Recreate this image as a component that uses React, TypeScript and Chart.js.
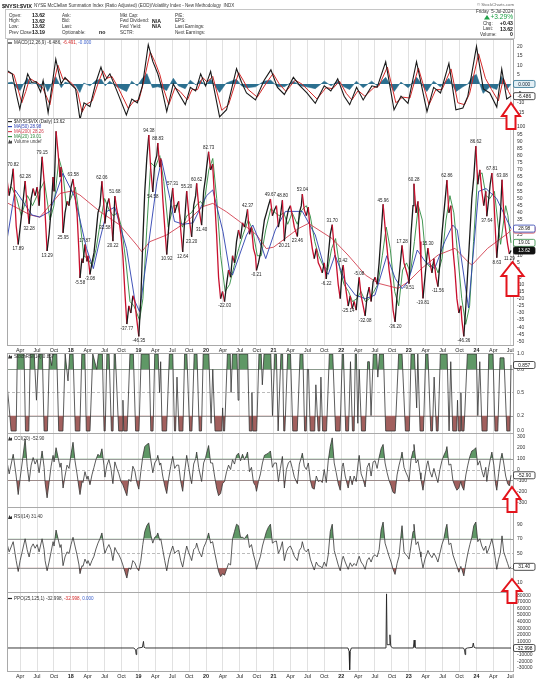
import React, { useEffect, useRef } from "react";
import { Chart, registerables } from "chart.js";

Chart.register(...registerables);

type P = [number, number];
const FONT = "'Liberation Sans', Arial, Helvetica, sans-serif";

// ---------- time axis: months since 1 Jan 2017 ----------
const X_MIN = 0.67;
const X_MAX = 90.5;
const quarterMonths = [3, 6, 9, 12, 15, 18, 21, 24, 27, 30, 33, 36, 39, 42, 45, 48, 51, 54, 57, 60, 63, 66, 69, 72, 75, 78, 81, 84, 87, 90];
const monthAbbr: Record<number, string> = { 3: "Apr", 6: "Jul", 9: "Oct" };

// ---------- tick labels ----------
const macdTicks = [20, 15, 10, 5, 0, -5, -10, -15];
const mainTicks = [100, 95, 90, 85, 80, 75, 70, 65, 60, 55, 50, 45, 40, 35, 30, 25, 20, 15, 10, 5, 0, -5, -10, -15, -20, -25, -30, -35, -40, -45, -50];
const stochTicks = [1, 0.8, 0.5, 0.2, 0];
const cciTicks = [300, 200, 100, 0, -100, -200, -300];
const rsiTicks = [90, 70, 50, 30, 10];
const ppoTicks = [80000, 70000, 60000, 50000, 40000, 30000, 20000, 10000, 0, -10000, -20000, -30000];

// ---------- $NYSI:$VIX price [month, value] ----------
const price: P[] = [
  [0.71, 62], [1.06, 52], [1.42, 60], [1.77, 70.82], [2.12, 45], [2.3, 31], [2.66, 17.89], [3.01, 30], [3.36, 42], [3.89, 62.28],
  [4.25, 45], [4.6, 32.28], [4.96, 50], [5.31, 57], [5.66, 52], [6.02, 58], [6.37, 45], [6.9, 79.15], [7.26, 62], [7.43, 40],
  [7.79, 13.29], [8.14, 25], [8.5, 42], [8.85, 65], [9.03, 55], [9.38, 97], [9.74, 82], [10.09, 65], [10.27, 72], [10.62, 25.95],
  [10.97, 40], [11.33, 48], [11.68, 45], [12.04, 58], [12.39, 63.58], [12.74, 52], [13.1, 40], [13.45, 12], [13.63, -5.58], [13.98, 8],
  [14.16, 5], [14.51, 17.87], [14.87, 6], [15.05, 10], [15.4, -3.08], [15.75, 5], [16.11, 12], [16.46, 25], [16.82, 40], [17.17, 45],
  [17.52, 62.06], [17.88, 45], [18.05, 32.58], [18.41, 45], [18.76, 50], [19.12, 40], [19.47, 20.22], [19.82, 51.68], [20.18, 42], [20.53, 35],
  [20.89, 25], [21.24, 10], [21.59, -15], [21.95, -37.77], [22.3, -25], [22.66, -30], [23.01, -18], [23.36, -22], [23.72, -35], [24.07, -46.35],
  [24.43, -20], [24.78, 20], [25.13, 55], [25.49, 78], [25.84, 94.38], [26.2, 70], [26.55, 54.58], [26.9, 75], [27.26, 80], [27.44, 88.83],
  [27.79, 72], [27.97, 78], [28.32, 50], [28.67, 30], [29.03, 10.92], [29.38, 30], [29.74, 45], [30.09, 57.31], [30.44, 40], [30.8, 45],
  [31.15, 48], [31.51, 28], [31.86, 12.64], [32.21, 35], [32.57, 55.2], [32.92, 40], [33.28, 28], [33.45, 23.2], [33.81, 45], [34.16, 52],
  [34.34, 60.62], [34.69, 45], [35.05, 35], [35.22, 31.4], [35.58, 55], [35.93, 65], [36.11, 72], [36.46, 82.73], [36.82, 70], [37.17, 74],
  [37.52, 50], [37.88, 25], [38.23, -5], [38.59, -20], [38.94, -15], [39.29, -22.03], [39.65, -10], [40.0, 0], [40.36, -5], [40.71, 10],
  [41.06, 5], [41.42, 20], [41.77, 28], [42.13, 22], [42.48, 33], [42.83, 30], [43.19, 38], [43.37, 42.37], [43.72, 25], [44.07, 30],
  [44.43, 15], [44.78, 10], [44.96, -0.21], [45.31, 5], [45.67, 12], [46.02, 25], [46.37, 35], [46.73, 40], [47.08, 45], [47.44, 49.67],
  [47.79, 38], [48.14, 42], [48.5, 45], [48.85, 30], [49.21, 38], [49.56, 48.8], [49.91, 20.21], [50.27, 35], [50.62, 42], [50.98, 45],
  [51.33, 38], [51.68, 30], [52.22, 23.46], [52.57, 40], [52.92, 45], [53.1, 53.04], [53.45, 42], [53.81, 38], [54.16, 44], [54.52, 25],
  [54.87, 15], [55.22, 8], [55.58, 15], [55.93, 5], [56.29, 2], [56.64, -2], [56.99, 5], [57.35, -6.22], [57.7, 10], [58.06, 25],
  [58.41, 31.7], [58.76, 15], [59.12, 5], [59.47, -10], [59.83, -20], [60.18, 0], [60.36, 3.42], [60.71, -10], [61.24, -25.14], [61.6, -18],
  [61.95, -27], [62.3, -22], [62.66, -28], [63.01, -12], [63.19, -5.08], [63.54, -18], [63.9, -25], [64.25, -32.08], [64.61, -18], [64.96, -12],
  [65.31, -22], [65.67, -8], [66.02, -5], [66.38, -10], [66.73, 5], [67.08, 25], [67.44, 45.96], [67.79, 30], [68.15, 15], [68.5, 0],
  [68.85, -10], [69.21, -28], [69.56, -36.2], [69.92, -18], [70.27, -5], [70.62, 10], [70.8, 17.28], [71.15, 5], [71.51, 0], [71.86, -5],
  [72.04, -9.51], [72.39, 25], [72.75, 45], [72.92, 60.28], [73.28, 40], [73.63, 48], [73.99, 20], [74.16, 5], [74.52, -19.81], [74.87, -5],
  [75.23, 10], [75.4, 15.3], [75.76, 5], [76.11, -2], [76.46, 8], [76.82, -5], [77.17, -11.56], [77.53, 5], [77.88, 25], [78.23, 40],
  [78.59, 55], [78.77, 62.86], [79.12, 40], [79.47, 45], [79.83, 15], [80.18, 0], [80.54, -20], [80.89, -30], [81.24, -25], [81.42, -35],
  [81.77, -46.36], [82.13, -25], [82.48, 0], [82.84, 25], [83.19, 50], [83.54, 65], [83.9, 86.62], [84.25, 60], [84.61, 70], [84.96, 55],
  [85.31, 45], [85.67, 55], [85.85, 37.64], [86.2, 50], [86.45, 60], [86.75, 67.81], [87.1, 50], [87.4, 25], [87.62, 8.63], [87.95, 25],
  [88.25, 38], [88.55, 63.08], [88.85, 40], [89.2, 28], [89.55, 18], [89.85, 11.29], [90.15, 13.62],
];

// labelled highs (1) and lows (-1) on the price line: [month, direction]
const priceLabels: P[] = [
  [1.77, 1], [3.89, 1], [6.9, 1], [12.39, 1], [14.51, 1], [17.52, 1], [19.82, 1], [25.84, 1], [27.44, 1], [30.09, 1],
  [32.57, 1], [34.34, 1], [36.46, 1], [43.37, 1], [47.44, 1], [49.56, 1], [53.1, 1], [58.41, 1], [60.36, 1], [63.19, 1],
  [67.44, 1], [70.8, 1], [72.92, 1], [75.4, 1], [78.77, 1], [83.9, 1], [86.75, 1], [88.55, 1],
  [2.66, -1], [4.6, -1], [7.79, -1], [10.62, -1], [13.63, -1], [15.4, -1], [18.05, -1], [19.47, -1], [21.95, -1], [24.07, -1],
  [26.55, -1], [29.03, -1], [31.86, -1], [33.45, -1], [35.22, -1], [39.29, -1], [44.96, -1], [49.91, -1], [52.22, -1], [57.35, -1],
  [61.24, -1], [64.25, -1], [69.56, -1], [72.04, -1], [74.52, -1], [77.17, -1], [81.77, -1], [85.85, -1], [87.62, -1], [89.85, -1],
];

const ma20: P[] = [
  [0.71, 55], [1.5, 58], [2.4, 50], [3.2, 38], [4.3, 52], [5.2, 45], [6.0, 52], [7.3, 62], [8.3, 35], [9.0, 45], [9.9, 78], [10.6, 68],
  [11.2, 45], [12.0, 50], [12.8, 58], [13.6, 35], [14.3, 10], [15.0, 8], [15.8, 3], [16.5, 15], [17.3, 35], [18.0, 50], [18.8, 42],
  [19.5, 38], [20.3, 40], [21.0, 30], [21.8, 5], [22.5, -22], [23.2, -25], [24.2, -35], [24.8, -20], [25.5, 30], [26.2, 75], [27.0, 72],
  [27.8, 80], [28.5, 62], [29.3, 30], [30.2, 45], [31.0, 45], [31.8, 30], [32.6, 38], [33.4, 40], [34.2, 45], [35.0, 48], [35.6, 45],
  [36.5, 70], [37.2, 78], [37.9, 50], [38.6, 10], [39.4, -15], [40.2, -10], [41.0, 3], [41.8, 15], [42.6, 25], [43.5, 35], [44.3, 28],
  [45.1, 10], [45.8, 10], [46.6, 28], [47.5, 43], [48.3, 40], [49.0, 38], [49.8, 40], [50.5, 32], [51.3, 40], [52.2, 32], [53.0, 42],
  [53.8, 45], [54.5, 38], [55.3, 20], [56.0, 10], [56.8, 3], [57.6, 0], [58.3, 15], [59.0, 22], [59.8, 0], [60.5, -10], [61.3, -15],
  [62.0, -22], [62.8, -20], [63.5, -15], [64.3, -22], [65.0, -20], [65.8, -15], [66.5, -10], [67.3, 10], [68.0, 30], [68.7, 15],
  [69.5, -15], [70.2, -25], [70.9, 0], [71.6, 5], [72.3, -2], [73.0, 20], [73.7, 45], [74.4, 35], [75.1, 5], [75.8, 2], [76.5, 5],
  [77.2, -2], [77.9, 8], [78.6, 35], [79.3, 52], [80.0, 40], [80.7, 10], [81.4, -20], [82.1, -38], [82.8, -25], [83.5, 20], [84.2, 65],
  [85.0, 68], [85.7, 52], [86.4, 50], [87.2, 55], [87.9, 30], [88.3, 18], [89.2, 45], [89.6, 38], [90.15, 19.01],
];

const ma50: P[] = [
  [0.71, 22], [2.1, 56], [3.5, 48], [5.1, 38.5], [6.5, 37], [8.3, 41], [10.6, 67.6], [12.7, 51], [14.8, 15], [16.0, 1], [17.2, 22],
  [18.4, 41], [19.8, 44], [21.9, 15], [23.4, -22], [24.2, -29], [25.7, 15], [27.3, 62], [28.1, 77], [29.6, 50], [30.4, 34], [32.0, 32],
  [33.7, 33], [36.1, 52], [37.2, 56], [39.0, 27], [40.2, -1], [40.7, -3.5], [43.2, 24.5], [44.3, 31.5], [46.0, 15], [46.6, 8], [48.3, 28],
  [50.1, 41], [53.1, 41], [55.4, 24.5], [57.2, -1], [57.7, -3], [58.9, 10.5], [60.7, -8], [62.5, -17.5], [64.3, -20], [66.0, -17.5],
  [68.1, 10], [69.6, -6], [70.8, -13], [71.9, -8], [73.5, 14], [74.9, 6], [76.6, 1], [78.4, 20], [79.8, 31.5], [80.6, 28], [82.6, -26.5],
  [84.4, 55], [85.7, 57], [87.6, 50], [90.15, 28.98],
];

const ma200: P[] = [
  [0.71, 47], [4.8, 38.5], [6.5, 37], [10.1, 53.6], [12.2, 55.3], [13.6, 52.5], [17.2, 40.8], [20.7, 31.5], [23.7, 17.5], [24.6, 12.8],
  [26.0, 19.8], [29.0, 24.5], [32.6, 33.8], [35.4, 44.3], [37.2, 46.6], [39.6, 40.8], [42.0, 33.8], [45.0, 24.5], [46.7, 15], [48.0, 16],
  [52.4, 29], [54.2, 32.6], [58.4, 22], [61.2, 10.5], [64.3, -3.5], [66.6, -9.3], [70.1, -12.8], [71.9, -8.2], [74.3, 1.2], [77.2, 10.5],
  [80.2, 15.2], [82.5, 5.8], [83.2, 3.5], [86.0, 15.2], [89.6, 25.7], [90.15, 28.26],
];

// ---------- MACD(12,26,9) ----------
const macdLine: P[] = [
  [0.67, 7.2], [0.81, 6.9], [1.59, 5.4], [2.48, -7.4], [2.94, -13.4], [3.61, -3.7], [4.34, 5.4], [5.06, 0.8], [5.84, 1.2], [6.64, -4.3],
  [7.08, 1.8], [7.97, -15.3], [8.58, -2.6], [9.33, 13.2], [10.27, 0], [10.97, 3.5], [11.93, 0], [12.85, -2.6], [13.63, -19], [14.34, -10],
  [15.4, -12], [16.46, 0.9], [17.35, 9], [18.05, 1.8], [18.94, 5.4], [20.18, -3.7], [21.86, -16.5], [22.83, -8], [23.81, -10], [24.71, -1],
  [25.75, 20.9], [26.55, 12], [27.44, 5.4], [28.05, -1], [29.03, -14.7], [30.18, 0], [31.1, -4.8], [32.32, -11], [33.22, -1.8], [34.16, -3.7],
  [35.05, 5.4], [35.93, -1], [36.82, 6.7], [38.41, -17.5], [39.65, -13.7], [41.42, 8.1], [42.3, 0.9], [43.19, -4.8], [44.78, -8.5], [46.3, 1.8],
  [47.52, 7.5], [48.68, -1.8], [49.91, -5.6], [51.51, 3.5], [52.69, -1], [53.91, -4.8], [55.4, -10.3], [56.99, -1], [58.16, -3.7], [59.38, 2.7],
  [60.53, -6.5], [61.51, -11], [62.73, -1.8], [63.9, -8.5], [65.45, -1], [66.38, -1.8], [67.9, 11.8], [69.38, -13.7], [70.62, -6.5], [71.86, -10.3],
  [73.37, 11.8], [75.23, -14.7], [76.41, -1.8], [77.63, -4.8], [79.12, 10.9], [80.36, -13.7], [81.6, -12.8], [82.48, -6.5], [84.02, 20], [85.23, -2.6],
  [86.38, -4.8], [87.62, -12.3], [88.5, 8], [89.39, -8], [90.15, -6.486],
];
const macdSignal: P[] = [
  [0.67, 6.5], [1.9, 5], [3.3, -10], [4.0, -4], [4.7, 3], [5.5, 1.5], [6.2, 0.5], [7.0, -2], [8.3, -11], [9.0, 1], [9.7, 10], [10.6, 2.5],
  [11.3, 2.5], [12.3, 0], [13.2, -4], [14.0, -15], [14.7, -11], [15.8, -9], [16.8, 0], [17.7, 7], [18.4, 3], [19.3, 4], [20.5, -2.5],
  [22.2, -13], [23.1, -9.5], [24.1, -8.5], [25.0, 2], [26.1, 17], [26.9, 12], [27.8, 5], [28.4, -2], [29.4, -11], [30.5, -2], [31.4, -4],
  [32.7, -8.5], [33.5, -3], [34.5, -3], [35.4, 3.5], [36.2, 1], [37.2, 4], [38.8, -14], [40.0, -11], [41.8, 6], [42.6, 2], [43.5, -3],
  [45.1, -7], [46.6, 0], [47.9, 5.5], [49.0, 0], [50.2, -4], [51.8, 2], [53.0, 0], [54.2, -3.5], [55.7, -8], [57.3, -2], [58.5, -2.5],
  [59.7, 1.5], [60.9, -5], [61.9, -8.5], [63.0, -3.5], [64.2, -6.5], [65.8, -2], [66.7, -1], [68.2, 9], [69.7, -10], [70.9, -7], [72.2, -7.5],
  [73.7, 8.5], [75.6, -11], [76.8, -3], [77.9, -3], [79.5, 8], [80.7, -10], [81.9, -11], [82.8, -5], [84.4, 16], [85.6, 3], [86.7, -3],
  [87.9, -9], [88.8, 3], [89.7, -4], [90.15, -6.491],
];
const macdHist: P[] = [
  [0.67, 0.5], [1.6, 1], [2.5, -2.5], [3.0, -3.5], [3.6, 0], [4.3, 3], [5.0, 0], [5.8, 0.5], [6.6, -2], [7.1, 1.5], [7.9, -4], [8.6, 0],
  [9.3, 4], [10.3, -2], [11.0, 1], [11.9, 0], [12.9, -1], [13.6, -4.5], [14.3, 0.5], [15.4, -1], [16.5, 2], [17.4, 2.5], [18.1, -1],
  [18.9, 1.5], [20.2, -1.5], [21.9, -4], [22.8, 1.5], [23.8, -1], [24.7, 3], [25.5, 5.5], [26.5, -2], [27.4, -1.5], [28.1, -2], [29.0, -3.5],
  [30.2, 3], [31.1, -1], [32.3, -2.5], [33.2, 2], [34.2, -0.5], [35.0, 2], [35.9, -1], [36.8, 2.5], [38.4, -4.5], [39.6, 0.5], [41.4, 2.5],
  [42.3, -1], [43.2, -2], [44.8, -1.5], [46.3, 1.5], [47.5, 2], [48.7, -1.5], [49.9, -1.5], [51.5, 1.5], [52.7, -1], [53.9, -1.5],
  [55.4, -2.5], [57.0, 1.5], [58.2, -1], [59.4, 1.5], [60.5, -1.5], [61.5, -3], [62.7, 1.5], [63.9, -2], [65.4, 1.5], [66.4, -1],
  [67.9, 3.5], [69.4, -4], [70.6, 1], [71.9, -2], [73.4, 3.5], [75.2, -4], [76.4, 1.5], [77.6, -1.5], [79.1, 3], [80.4, -4], [81.6, -1.5],
  [82.5, 0], [83.3, 4], [84.0, 5], [85.2, -5], [86.4, -1.5], [87.6, -3], [88.5, 4], [89.4, -3], [90.15, 0],
];

// ---------- StochRSI(14) ----------
const stochRsi: P[] = [
  [0.67, 0.6], [1.0, 0.35], [1.4, 0], [2.3, 0], [2.5, 1], [3.7, 1], [3.95, 0], [4.55, 0], [4.8, 1], [5.5, 1], [5.9, 0.4], [6.3, 1],
  [6.95, 1], [7.25, 0], [7.85, 0], [8.2, 1], [8.6, 0.85], [8.8, 1], [9.5, 1], [9.85, 0], [10.6, 0], [11.0, 1], [11.5, 0.65], [11.8, 1],
  [12.4, 1], [12.8, 0], [13.6, 0], [13.95, 1], [14.5, 1], [14.75, 0], [15.4, 0], [15.9, 1], [16.6, 0.8], [16.9, 1], [17.6, 1], [17.9, 0],
  [18.1, 0], [18.4, 1], [18.8, 1], [19.2, 0], [19.5, 0], [19.7, 1], [19.9, 1], [20.5, 0], [21.1, 0], [21.25, 0.4], [21.4, 0], [22.0, 0],
  [22.5, 1], [23.1, 1], [23.5, 0], [24.1, 0], [24.5, 1], [25.9, 1], [26.2, 0], [26.6, 0], [26.9, 1], [27.5, 1], [27.75, 0.5], [27.95, 0.9],
  [28.2, 0], [29.0, 0], [29.5, 1], [30.1, 1], [30.4, 0], [30.6, 0], [30.85, 0.7], [31.2, 0], [31.9, 0], [32.2, 1], [32.6, 1], [33.1, 0],
  [33.5, 0], [33.9, 1], [34.4, 1], [34.8, 0], [35.2, 0], [35.5, 1], [36.5, 1], [36.9, 0.1], [37.2, 0.8], [37.6, 0], [38.8, 0], [38.95, 0.3],
  [39.1, 0], [39.3, 0], [39.8, 1], [40.3, 1], [40.45, 0.5], [40.7, 1], [41.5, 1], [41.7, 0.4], [41.85, 1], [43.4, 1], [43.7, 0], [44.0, 0],
  [44.15, 0.5], [44.3, 0], [45.0, 0], [45.4, 1], [45.8, 1], [46.0, 0.6], [46.3, 1], [47.5, 1], [47.8, 0.2], [48.2, 1], [48.5, 1], [48.8, 0],
  [48.9, 0], [49.3, 1], [49.6, 1], [49.8, 0], [50.0, 0], [50.5, 1], [51.0, 1], [51.4, 0], [52.2, 0], [52.7, 1], [53.2, 1], [53.5, 0],
  [53.8, 0], [54.0, 0.8], [54.2, 0.8], [54.5, 0], [55.3, 0], [55.5, 0.6], [55.9, 0], [56.2, 0], [56.4, 0.7], [56.7, 0], [57.4, 0], [57.9, 1],
  [58.5, 1], [59.0, 0], [59.8, 0], [60.2, 1], [60.4, 1], [60.8, 0], [61.3, 0], [61.65, 0.9], [62.0, 0], [62.3, 0], [62.5, 1], [62.7, 1],
  [62.95, 0.1], [63.2, 0.8], [63.6, 0], [64.3, 0], [64.7, 0.9], [65.0, 0.9], [65.3, 0.2], [65.7, 1], [66.3, 1], [66.5, 0.7], [66.8, 1],
  [67.5, 1], [67.9, 0], [69.6, 0], [70.2, 1], [70.8, 1], [71.4, 0], [72.1, 0], [72.4, 1], [73.0, 1], [73.4, 0.3], [73.6, 1], [74.0, 0],
  [74.6, 0], [75.0, 1], [75.4, 1], [75.9, 0], [76.2, 0], [76.5, 0.7], [76.9, 0], [77.2, 0], [77.6, 1], [78.8, 1], [79.15, 0], [79.45, 0.9],
  [79.8, 0], [80.5, 0], [80.65, 0.4], [80.8, 0], [81.1, 0], [81.25, 0.5], [81.4, 0], [81.8, 0], [82.4, 1], [84.0, 1], [84.25, 0.2],
  [84.6, 0.9], [85.0, 0], [85.9, 0], [86.2, 1], [86.95, 1], [87.3, 0], [87.8, 0], [88.2, 0.95], [88.9, 0.95], [89.4, 0], [89.95, 0],
  [90.15, 0.857],
];

// ---------- CCI(20) ----------
const cci: P[] = [
  [0.71, 60], [1.06, -40], [1.77, 140], [2.3, -60], [2.66, -230], [3.0, -80], [3.36, 60], [3.89, 280], [4.25, 30], [4.6, -110], [4.96, 40],
  [5.31, 110], [5.66, 50], [6.02, 90], [6.37, -30], [6.9, 170], [7.26, 20], [7.43, -120], [7.79, -260], [8.14, -120], [8.5, 30], [8.85, 130],
  [9.03, 70], [9.38, 200], [9.74, 110], [10.09, 20], [10.27, 60], [10.62, -170], [10.97, -60], [11.33, 40], [11.68, 10], [12.04, 140],
  [12.39, 250], [12.74, 80], [13.1, -40], [13.45, -170], [13.63, -230], [13.98, -110], [14.16, -120], [14.51, -20], [14.87, -90],
  [15.05, -60], [15.4, -140], [15.75, -50], [16.11, 20], [16.46, 90], [16.82, 140], [17.17, 120], [17.52, 190], [17.88, 40], [18.05, -70],
  [18.41, 40], [18.76, 90], [19.12, 10], [19.47, -130], [19.82, 70], [20.18, 10], [20.53, -40], [20.89, -110], [21.24, -140], [21.59, -190],
  [21.95, -240], [22.3, -90], [22.66, -110], [23.01, 30], [23.36, -10], [23.72, -120], [24.07, -180], [24.43, -20], [24.78, 120],
  [25.13, 210], [25.49, 230], [25.84, 240], [26.2, 90], [26.55, -30], [26.9, 60], [27.26, 90], [27.44, 130], [27.79, 40], [27.97, 60],
  [28.32, -60], [28.67, -150], [29.03, -220], [29.38, -80], [29.74, 30], [30.09, 120], [30.44, 10], [30.8, 40], [31.15, 40], [31.51, -110],
  [31.86, -200], [32.21, -20], [32.57, 130], [32.92, 20], [33.28, -90], [33.45, -130], [33.81, 50], [34.16, 100], [34.34, 160], [34.69, 20],
  [35.05, -70], [35.22, -110], [35.58, 60], [35.93, 110], [36.11, 150], [36.46, 220], [36.82, 60], [37.17, 60], [37.52, -60], [37.88, -170],
  [38.23, -240], [38.59, -220], [38.94, -130], [39.29, -110], [39.65, -20], [40.0, 40], [40.36, 0], [40.71, 90], [41.06, 50], [41.42, 130],
  [41.77, 150], [42.13, 80], [42.48, 140], [42.83, 90], [43.19, 130], [43.37, 160], [43.72, -20], [44.07, 20], [44.43, -120], [44.78, -150],
  [44.96, -200], [45.31, -110], [45.67, -40], [46.02, 60], [46.37, 130], [46.73, 140], [47.08, 150], [47.44, 170], [47.79, 20], [48.14, 60],
  [48.5, 60], [48.85, -110], [49.21, 10], [49.56, 120], [49.91, -170], [50.27, 0], [50.62, 60], [50.98, 80], [51.33, 10], [51.68, -70],
  [52.22, -130], [52.57, 50], [52.92, 110], [53.1, 150], [53.45, 30], [53.81, 0], [54.16, 60], [54.52, -100], [54.87, -170], [55.22, -180],
  [55.58, -60], [55.93, -110], [56.29, -100], [56.64, -120], [56.99, 0], [57.35, -120], [57.7, 80], [58.06, 210], [58.41, 290], [58.76, 60],
  [59.12, -30], [59.47, -130], [59.83, -190], [60.18, 30], [60.36, 60], [60.71, -60], [61.24, -170], [61.6, -60], [61.95, -140], [62.3, -60],
  [62.66, -110], [63.01, 60], [63.19, 130], [63.54, -40], [63.9, -90], [64.25, -160], [64.61, 20], [64.96, 60], [65.31, -60], [65.67, 70],
  [66.02, 80], [66.38, 10], [66.73, 110], [67.08, 190], [67.44, 230], [67.79, 60], [68.15, -30], [68.5, -100], [68.85, -150], [69.21, -210],
  [69.56, -220], [69.92, -50], [70.27, 40], [70.62, 110], [70.8, 160], [71.15, 20], [71.51, -30], [71.86, -70], [72.04, -110], [72.39, 90],
  [72.75, 170], [72.92, 230], [73.28, 60], [73.63, 90], [73.99, -30], [74.16, -90], [74.52, -190], [74.87, -60], [75.23, 50], [75.4, 80],
  [75.76, -20], [76.11, -70], [76.46, 10], [76.82, -60], [77.17, -120], [77.53, 0], [77.88, 80], [78.23, 130], [78.59, 170], [78.77, 210],
  [79.12, 40], [79.47, 50], [79.83, -100], [80.18, -150], [80.54, -190], [80.89, -170], [81.24, -110], [81.42, -150], [81.77, -190],
  [82.13, -50], [82.48, 40], [82.84, 120], [83.19, 170], [83.54, 180], [83.9, 200], [84.25, 40], [84.61, 80], [84.96, -10], [85.31, -70],
  [85.67, 20], [85.85, -110], [86.2, 20], [86.45, 90], [86.75, 160], [87.1, 40], [87.4, -130], [87.62, -190], [87.95, -40], [88.25, 80],
  [88.55, 150], [88.85, 60], [89.2, -60], [89.55, -130], [89.85, -150], [90.15, -52.9],
];

// ---------- RSI(14) ----------
const rsi: P[] = [
  [0.71, 62], [1.06, 52], [1.77, 66], [2.3, 40], [2.66, 25], [3.0, 40], [3.36, 52], [3.89, 70], [4.25, 55], [4.6, 45], [4.96, 58],
  [5.31, 63], [5.66, 57], [6.02, 62], [6.37, 52], [6.9, 70], [7.26, 55], [7.43, 40], [7.79, 26], [8.14, 38], [8.5, 52], [8.85, 66],
  [9.03, 60], [9.38, 82], [9.74, 70], [10.09, 58], [10.27, 62], [10.62, 33], [10.97, 45], [11.33, 52], [11.68, 50], [12.04, 62],
  [12.39, 72], [12.74, 60], [13.1, 48], [13.45, 34], [13.63, 22], [13.98, 33], [14.16, 32], [14.51, 42], [14.87, 36], [15.05, 40],
  [15.4, 33], [15.75, 40], [16.11, 46], [16.46, 56], [16.82, 64], [17.17, 70], [17.52, 78], [17.88, 58], [18.05, 50], [18.41, 57],
  [18.76, 62], [19.12, 55], [19.47, 40], [19.82, 58], [20.18, 52], [20.53, 48], [20.89, 42], [21.24, 34], [21.59, 25], [21.95, 16],
  [22.3, 30], [22.66, 28], [23.01, 40], [23.36, 37], [23.72, 30], [24.07, 26], [24.43, 40], [24.78, 62], [25.13, 80], [25.49, 88],
  [25.84, 92], [26.2, 75], [26.55, 64], [26.9, 72], [27.26, 74], [27.44, 78], [27.79, 68], [27.97, 70], [28.32, 55], [28.67, 40],
  [29.03, 26], [29.38, 42], [29.74, 52], [30.09, 60], [30.44, 50], [30.8, 53], [31.15, 54], [31.51, 40], [31.86, 31], [32.21, 46],
  [32.57, 60], [32.92, 51], [33.28, 44], [33.45, 40], [33.81, 55], [34.16, 58], [34.34, 64], [34.69, 54], [35.05, 48], [35.22, 45],
  [35.58, 58], [35.93, 64], [36.11, 68], [36.46, 78], [36.82, 64], [37.17, 66], [37.52, 52], [37.88, 38], [38.23, 25], [38.59, 18],
  [38.94, 22], [39.29, 20], [39.65, 28], [40.0, 36], [40.36, 34], [40.71, 70], [41.06, 80], [41.42, 90], [41.77, 88], [42.13, 72],
  [42.48, 72], [42.83, 70], [43.19, 74], [43.37, 76], [43.72, 58], [44.07, 62], [44.43, 48], [44.78, 38], [44.96, 28], [45.31, 37],
  [45.67, 46], [46.02, 60], [46.37, 70], [46.73, 80], [47.08, 86], [47.44, 90], [47.79, 64], [48.14, 66], [48.5, 67], [48.85, 50],
  [49.21, 56], [49.56, 66], [49.91, 40], [50.27, 52], [50.62, 58], [50.98, 60], [51.33, 54], [51.68, 46], [52.22, 40], [52.57, 54],
  [52.92, 58], [53.1, 66], [53.45, 55], [53.81, 52], [54.16, 56], [54.52, 42], [54.87, 34], [55.22, 27], [55.58, 38], [55.93, 33],
  [56.29, 32], [56.64, 30], [56.99, 38], [57.35, 32], [57.7, 48], [58.06, 80], [58.41, 90], [58.76, 54], [59.12, 44], [59.47, 34],
  [59.83, 26], [60.18, 42], [60.36, 46], [60.71, 38], [61.24, 28], [61.6, 37], [61.95, 32], [62.3, 36], [62.66, 33], [63.01, 42],
  [63.19, 46], [63.54, 38], [63.9, 34], [64.25, 28], [64.61, 40], [64.96, 44], [65.31, 38], [65.67, 46], [66.02, 48], [66.38, 45],
  [66.73, 55], [67.08, 82], [67.44, 93], [67.79, 64], [68.15, 55], [68.5, 46], [68.85, 38], [69.21, 28], [69.56, 21], [69.92, 36],
  [70.27, 46], [70.62, 75], [70.8, 88], [71.15, 52], [71.51, 48], [71.86, 45], [72.04, 42], [72.39, 60], [72.75, 80], [72.92, 90],
  [73.28, 62], [73.63, 66], [73.99, 52], [74.16, 45], [74.52, 30], [74.87, 42], [75.23, 50], [75.4, 54], [75.76, 48], [76.11, 44],
  [76.46, 50], [76.82, 45], [77.17, 38], [77.53, 50], [77.88, 62], [78.23, 70], [78.59, 85], [78.77, 90], [79.12, 62], [79.47, 64],
  [79.83, 48], [80.18, 40], [80.54, 32], [80.89, 24], [81.24, 32], [81.42, 28], [81.77, 19], [82.13, 36], [82.48, 50], [82.84, 62],
  [83.19, 72], [83.54, 88], [83.9, 93], [84.25, 66], [84.61, 70], [84.96, 60], [85.31, 54], [85.67, 60], [85.85, 50], [86.2, 56],
  [86.45, 62], [86.75, 70], [87.1, 56], [87.4, 40], [87.62, 28], [87.95, 42], [88.25, 50], [88.55, 74], [88.85, 52], [89.2, 44],
  [89.55, 36], [89.85, 29], [90.15, 31.4],
];

// ---------- PPO(25,125,1) ----------
const ppo: P[] = [
  [0.67, 0], [23.2, 0], [23.5, -3000], [23.6, -10000], [23.7, -2000], [24.0, 0], [24.7, 1000], [24.9, 10000], [25.0, 1000], [25.3, 0],
  [61.2, 0], [61.4, -5000], [61.5, -33000], [61.6, -5000], [61.8, 0], [67.8, 0], [67.95, 3000], [68.05, 82000], [68.15, 5000],
  [68.5, 5000], [68.65, 20000], [68.8, 3000], [69.1, 0], [72.8, 0], [72.95, 12000], [73.1, 1000], [73.3, 0], [81.7, 0], [81.9, -3000],
  [82.0, -10000], [82.1, -1000], [82.4, 0], [83.3, 1000], [83.45, 7500], [83.6, 1000], [83.9, 0], [90.15, -33],
];

// ---------- colours ----------
const RED = "#c8102e";
const BLACK = "#1a1a1a";
const BLUE = "#2b3fb0";
const MA_RED = "#d2404f";
const GREEN = "#2e8b40";
const TEAL = "#2b6f8f";
const FILL_G = "#5f9866";
const FILL_R = "#a2605e";
const OSC = "#333333";

// ---------- drawing helpers ----------
function text(ctx: any, s: string, x: number, y: number, size: number, o: any = {}) {
  ctx.save();
  ctx.font = `${o.bold ? "bold " : ""}${size}px ${FONT}`;
  ctx.fillStyle = o.color || "#222";
  ctx.textAlign = o.align || "left";
  ctx.textBaseline = "middle";
  ctx.fillText(s, x, y);
  ctx.restore();
}
function parts(ctx: any, x: number, y: number, size: number, segs: [string, string][]) {
  let cx = x;
  for (const [s, col] of segs) {
    ctx.save();
    ctx.font = `${size}px ${FONT}`;
    ctx.fillStyle = col;
    ctx.textAlign = "left";
    ctx.textBaseline = "middle";
    ctx.fillText(s, cx, y);
    cx += ctx.measureText(s).width;
    ctx.restore();
  }
}
function markLine(ctx: any, x: number, y: number, color: string) {
  ctx.save();
  ctx.strokeStyle = color;
  ctx.lineWidth = 1.2;
  ctx.beginPath();
  ctx.moveTo(x, y);
  ctx.lineTo(x + 4, y);
  ctx.stroke();
  ctx.restore();
}
function markArea(ctx: any, x: number, y: number, color: string) {
  ctx.save();
  ctx.fillStyle = color;
  ctx.beginPath();
  ctx.moveTo(x, y + 2);
  ctx.lineTo(x + 1.5, y - 2);
  ctx.lineTo(x + 2.5, y);
  ctx.lineTo(x + 4, y - 1);
  ctx.lineTo(x + 4, y + 2);
  ctx.closePath();
  ctx.fill();
  ctx.restore();
}
function hline(c: any, v: number, color: string, width: number, dash: number[] = []) {
  const { ctx, chartArea: a } = c;
  const py = Math.round(c.scales.y.getPixelForValue(v)) + 0.5;
  ctx.save();
  ctx.strokeStyle = color;
  ctx.lineWidth = width;
  ctx.setLineDash(dash);
  ctx.beginPath();
  ctx.moveTo(a.left, py);
  ctx.lineTo(a.right, py);
  ctx.stroke();
  ctx.restore();
}
function frame(c: any) {
  const { ctx, chartArea: a } = c;
  ctx.save();
  ctx.strokeStyle = "#a9a9a9";
  ctx.lineWidth = 1;
  ctx.strokeRect(Math.round(a.left) + 0.5, Math.round(a.top) + 0.5, Math.round(a.right - a.left), Math.round(a.bottom - a.top));
  ctx.restore();
}
function valueBox(c: any, v: number, label: string, stroke: string, fill: string, color: string) {
  const ctx = c.ctx;
  const y = c.scales.y.getPixelForValue(v);
  const x0 = 513.5, w = 21.5, h = 7;
  ctx.save();
  ctx.beginPath();
  if (ctx.roundRect) ctx.roundRect(x0, y - h / 2, w, h, 1.5);
  else ctx.rect(x0, y - h / 2, w, h);
  ctx.fillStyle = fill;
  ctx.fill();
  ctx.lineWidth = 0.8;
  ctx.strokeStyle = stroke;
  ctx.stroke();
  ctx.restore();
  text(ctx, label, x0 + w / 2, y + 0.3, 4.8, { color, align: "center" });
}
function upArrow(ctx: any, cx: number, tip: number, headW: number, headH: number, shaftW: number, bottom: number) {
  ctx.save();
  ctx.beginPath();
  ctx.moveTo(cx, tip);
  ctx.lineTo(cx + headW / 2, tip + headH);
  ctx.lineTo(cx + shaftW / 2, tip + headH);
  ctx.lineTo(cx + shaftW / 2, bottom);
  ctx.lineTo(cx - shaftW / 2, bottom);
  ctx.lineTo(cx - shaftW / 2, tip + headH);
  ctx.lineTo(cx - headW / 2, tip + headH);
  ctx.closePath();
  ctx.fillStyle = "#ffffff";
  ctx.fill();
  ctx.lineWidth = 2;
  ctx.lineJoin = "miter";
  ctx.strokeStyle = "#e3141c";
  ctx.stroke();
  ctx.restore();
}

function drawHeader(ctx: any) {
  // fit the bold symbol into ~30px so the description starts where it does in the reference
  ctx.save();
  ctx.font = `bold 6px ${FONT}`;
  const w6 = ctx.measureText("$NYSI:$VIX").width;
  ctx.restore();
  const symSize = Math.min(6.4, (6 * 30) / w6);
  text(ctx, "$NYSI:$VIX", 2, 6, symSize, { bold: true, color: "#111" });
  text(ctx, "NYSE McClellan Summation Index (Ratio Adjusted) (EOD)/Volatility Index - New Methodology  INDX", 34, 6, 4.5, { color: "#333" });
  text(ctx, "\u00A9 StockCharts.com", 514, 4.8, 4.3, { color: "#666", align: "right" });
  ctx.save();
  ctx.strokeStyle = "#c6c6c6";
  ctx.lineWidth = 1;
  ctx.strokeRect(5.5, 9.5, 509, 29);
  ctx.restore();
  const rows = [15.6, 21.2, 26.9, 32.6];
  const c1 = ["Open:", "High:", "Low:", "Prev Close:"];
  const v1 = ["13.62", "13.62", "13.62", "13.19"];
  const c2 = ["Ask:", "Bid:", "Last:", "Optionable:"];
  const c3 = ["Mkt Cap:", "Fwd Dividend:", "Fwd Yield:", "SCTR:"];
  const c4 = ["P/E:", "EPS:", "Last Earnings:", "Next Earnings:"];
  rows.forEach((y, i) => {
    text(ctx, c1[i], 9, y, 4.6, { color: "#333" });
    text(ctx, v1[i], 45, y, 5.2, { bold: true, color: "#111", align: "right" });
    text(ctx, c2[i], 62, y, 4.6, { color: "#333" });
    text(ctx, c3[i], 120, y, 4.6, { color: "#333" });
    text(ctx, c4[i], 175, y, 4.6, { color: "#333" });
  });
  text(ctx, "no", 99, rows[3], 5.2, { bold: true, color: "#111" });
  text(ctx, "N/A", 161, rows[1], 5.2, { bold: true, color: "#111", align: "right" });
  text(ctx, "N/A", 161, rows[2], 5.2, { bold: true, color: "#111", align: "right" });

  text(ctx, "Friday  5-Jul-2024", 513, 11.4, 4.6, { color: "#333", align: "right" });
  ctx.save();
  ctx.fillStyle = "#21a048";
  ctx.beginPath();
  ctx.moveTo(484, 19.6);
  ctx.lineTo(487, 15);
  ctx.lineTo(490, 19.6);
  ctx.closePath();
  ctx.fill();
  ctx.restore();
  text(ctx, "+3.29%", 513, 17.4, 6.6, { color: "#21a048", align: "right" });
  const rr = [23.3, 29.1, 34.9];
  const rl = ["Chg:", "Last:", "Volume:"];
  const rv = ["+0.43", "13.62", "0"];
  rr.forEach((y, i) => {
    text(ctx, rl[i], i === 2 ? 480 : 483, y, 4.6, { color: "#333" });
    text(ctx, rv[i], 513, y, 5.2, { bold: true, color: "#111", align: "right" });
  });
}

function quarterLabel(m: number) {
  const r = m % 12;
  return r === 0 ? String(17 + m / 12) : monthAbbr[r];
}

type Spec = {
  top: number;
  bottom: number;
  xLabels: boolean;
  yMin: number;
  yMax: number;
  yTicks: number[];
  fmt: (v: number) => string;
  datasets: any[];
  before?: (c: any) => void;
  after?: (c: any) => void;
};

function makeConfig(s: Spec): any {
  const xh = s.xLabels ? 9 : 0;
  return {
    type: "line",
    data: { datasets: s.datasets },
    options: {
      animation: false,
      responsive: false,
      devicePixelRatio: 1,
      events: [],
      layout: { padding: { left: 7, right: 0, top: s.top, bottom: 680 - s.bottom - xh } },
      plugins: { legend: { display: false }, tooltip: { enabled: false }, title: { display: false } },
      elements: { point: { radius: 0 }, line: { tension: 0 } },
      scales: {
        x: {
          type: "linear",
          min: X_MIN,
          max: X_MAX,
          afterBuildTicks: (a: any) => {
            a.ticks = quarterMonths.map((v) => ({ value: v }));
          },
          afterFit: (a: any) => {
            a.height = xh;
          },
          grid: { color: "#e1e1e1", lineWidth: 1, drawTicks: false },
          border: { display: false },
          ticks: {
            display: s.xLabels,
            autoSkip: false,
            maxRotation: 0,
            padding: 2,
            color: "#222",
            font: (c: any) => ({ family: FONT, size: 5.4, weight: c.tick && c.tick.value % 12 === 0 ? "bold" : "normal" }),
            callback: (v: any) => quarterLabel(Number(v)),
          },
        },
        y: {
          type: "linear",
          position: "right",
          min: s.yMin,
          max: s.yMax,
          afterBuildTicks: (a: any) => {
            a.ticks = s.yTicks.map((v) => ({ value: v }));
          },
          afterFit: (a: any) => {
            a.width = 23;
          },
          grid: { display: false, drawTicks: false },
          border: { display: true, color: "#999", width: 1 },
          ticks: { autoSkip: false, padding: 4, color: "#333", font: { family: FONT, size: 5 }, callback: (v: any) => s.fmt(Number(v)) },
        },
      },
    },
    plugins: [
      {
        id: "panelDecor",
        beforeDatasetsDraw(c: any) {
          if (s.before) s.before(c);
        },
        afterDraw(c: any) {
          frame(c);
          if (s.after) s.after(c);
        },
      },
    ],
  };
}

const xy = (a: P[]) => a.map(([x, y]) => ({ x, y }));
const line = (data: P[], color: string, width: number, order: number, extra: any = {}) => ({
  data: xy(data),
  borderColor: color,
  borderWidth: width,
  pointRadius: 0,
  fill: false,
  order,
  ...extra,
});
const band = (data: P[], level: number, above: string, below: string, order: number) => ({
  data: xy(data),
  borderWidth: 0,
  borderColor: "transparent",
  backgroundColor: "transparent",
  pointRadius: 0,
  order,
  fill: { target: { value: level }, above, below },
});

const specs: Spec[] = [
  // MACD
  {
    top: 39,
    bottom: 118,
    xLabels: false,
    yMin: -18.1,
    yMax: 23.9,
    yTicks: macdTicks,
    fmt: (v) => String(v),
    datasets: [
      line(macdLine, BLACK, 1.1, 0),
      line(macdSignal, "#d42a2a", 1, 1),
      {
        data: xy(macdHist),
        borderColor: TEAL,
        borderWidth: 0.6,
        backgroundColor: TEAL,
        pointRadius: 0,
        order: 2,
        fill: { target: "origin", above: TEAL, below: TEAL },
      },
    ],
    after: (c) => {
      const ctx = c.ctx;
      drawHeader(ctx);
      markLine(ctx, 8, 43, "#222");
      parts(ctx, 14, 43, 4.6, [
        ["MACD(12,26,9) -6.486, ", "#333"],
        ["-6.491, ", "#d42a2a"],
        ["-0.000", "#3a5fcd"],
      ]);
      valueBox(c, 0, "0.000", TEAL, "#e3eff5", "#123");
      valueBox(c, -6.486, "-6.486", "#222", "#fff", "#111");
    },
  },
  // main price panel
  {
    top: 118,
    bottom: 345,
    xLabels: true,
    yMin: -52.4,
    yMax: 106.3,
    yTicks: mainTicks,
    fmt: (v) => String(v),
    datasets: [
      line(price, RED, 1.3, 0, {
        segment: { borderColor: (g: any) => (g.p1.parsed.y >= g.p0.parsed.y ? BLACK : RED) },
      }),
      line(ma50, BLUE, 0.9, 1),
      line(ma200, MA_RED, 0.9, 2),
      line(ma20, GREEN, 0.9, 3),
    ],
    after: (c) => {
      const ctx = c.ctx;
      const xs = c.scales.x, ys = c.scales.y;
      for (const [m, dir] of priceLabels) {
        const pt = price.find((p) => Math.abs(p[0] - m) < 1e-6);
        if (!pt) continue;
        const px = xs.getPixelForValue(m);
        const py = ys.getPixelForValue(pt[1]) + (dir > 0 ? -4 : 4.6);
        text(ctx, pt[1].toFixed(2), px, py, 4.5, { color: "#222", align: "center" });
      }
      const leg: [string, string][] = [
        ["$NYSI:$VIX (Daily) 13.62", "#222"],
        ["MA(50) 28.98", BLUE],
        ["MA(200) 28.26", MA_RED],
        ["MA(20) 19.01", GREEN],
        ["Volume undef", "#444"],
      ];
      leg.forEach(([t, col], i) => {
        const y = 121.6 + i * 5;
        if (i === 4) markArea(ctx, 8, y, "#444");
        else markLine(ctx, 8, y, col);
        text(ctx, t, 14, y, 4.5, { color: col });
      });
      valueBox(c, 28.26, "28.26", MA_RED, "#fff", "#222");
      valueBox(c, 28.98, "28.98", BLUE, "#fff", "#222");
      valueBox(c, 19.01, "19.01", GREEN, "#fff", "#222");
      valueBox(c, 13.62, "13.62", "#111", "#111", "#fff");
    },
  },
  // StochRSI
  {
    top: 353,
    bottom: 433,
    xLabels: false,
    yMin: -0.026,
    yMax: 1.013,
    yTicks: stochTicks,
    fmt: (v) => v.toFixed(1),
    datasets: [line(stochRsi, OSC, 0.8, 0), band(stochRsi, 0.8, FILL_G, "transparent", 1), band(stochRsi, 0.2, "transparent", FILL_R, 2)],
    before: (c) => {
      hline(c, 0.8, "#9a9a9a", 1.2);
      hline(c, 0.2, "#9a9a9a", 1.2);
      hline(c, 0.5, "#aaaaaa", 0.8, [3, 2]);
    },
    after: (c) => {
      markArea(c.ctx, 8, 356.5, "#333");
      text(c.ctx, "StochRSI(14) 0.857", 14, 356.5, 4.6, { color: "#333" });
      valueBox(c, 0.857, "0.857", "#222", "#fff", "#111");
    },
  },
  // CCI
  {
    top: 433,
    bottom: 507,
    xLabels: false,
    yMin: -344,
    yMax: 335,
    yTicks: cciTicks,
    fmt: (v) => String(v),
    datasets: [line(cci, OSC, 0.8, 0), band(cci, 100, FILL_G, "transparent", 1), band(cci, -100, "transparent", FILL_R, 2)],
    before: (c) => {
      hline(c, 100, "#9a9a9a", 1.2);
      hline(c, -100, "#9a9a9a", 1.2);
      hline(c, 0, "#aaaaaa", 0.8, [3, 2]);
    },
    after: (c) => {
      markArea(c.ctx, 8, 438.5, "#333");
      text(c.ctx, "CCI(20) -52.90", 14, 438.5, 4.6, { color: "#333" });
      valueBox(c, -52.9, "-52.90", "#222", "#fff", "#111");
    },
  },
  // RSI
  {
    top: 507,
    bottom: 592,
    xLabels: false,
    yMin: -3.2,
    yMax: 113.7,
    yTicks: rsiTicks,
    fmt: (v) => String(v),
    datasets: [line(rsi, OSC, 0.8, 0), band(rsi, 70, FILL_G, "transparent", 1), band(rsi, 30, "transparent", FILL_R, 2)],
    before: (c) => {
      hline(c, 70, "#9a9a9a", 1.2);
      hline(c, 30, "#9a9a9a", 1.2);
      hline(c, 50, "#aaaaaa", 0.8, [3, 2]);
    },
    after: (c) => {
      markArea(c.ctx, 8, 517, "#333");
      text(c.ctx, "RSI(14) 31.40", 14, 517, 4.6, { color: "#333" });
      valueBox(c, 31.4, "31.40", "#222", "#fff", "#111");
    },
  },
  // PPO
  {
    top: 592,
    bottom: 671,
    xLabels: true,
    yMin: -34850,
    yMax: 84850,
    yTicks: ppoTicks,
    fmt: (v) => String(v),
    datasets: [line(ppo, "#222", 0.9, 0)],
    after: (c) => {
      const ctx = c.ctx;
      markLine(ctx, 8, 598.5, "#222");
      parts(ctx, 14, 598.5, 4.6, [
        ["PPO(25,125,1) -32.998, ", "#333"],
        ["-32.998, ", "#d42a2a"],
        ["0.000", "#3a5fcd"],
      ]);
      valueBox(c, -33, "-32.998", "#222", "#fff", "#111");
      // red annotation arrows drawn over all panels
      upArrow(ctx, 511, 103, 18, 13, 9, 129);
      upArrow(ctx, 512.5, 262, 22, 14, 12, 296);
      upArrow(ctx, 512, 487, 17, 12, 9, 512);
      upArrow(ctx, 512, 579, 19, 12, 9, 603);
    },
  },
];

export default function App() {
  const refs = useRef<(HTMLCanvasElement | null)[]>([]);
  useEffect(() => {
    const charts = specs.map((s, i) => new Chart(refs.current[i] as HTMLCanvasElement, makeConfig(s)));
    return () => charts.forEach((ch) => ch.destroy());
  }, []);
  return (
    <div style={{ position: "absolute", left: 0, top: 0, width: 536, height: 680, background: "#ffffff", overflow: "hidden" }}>
      {specs.map((_, i) => (
        <canvas
          key={i}
          ref={(el) => {
            refs.current[i] = el;
          }}
          width={536}
          height={680}
          style={{ position: "absolute", left: 0, top: 0, width: 536, height: 680 }}
        />
      ))}
    </div>
  );
}
